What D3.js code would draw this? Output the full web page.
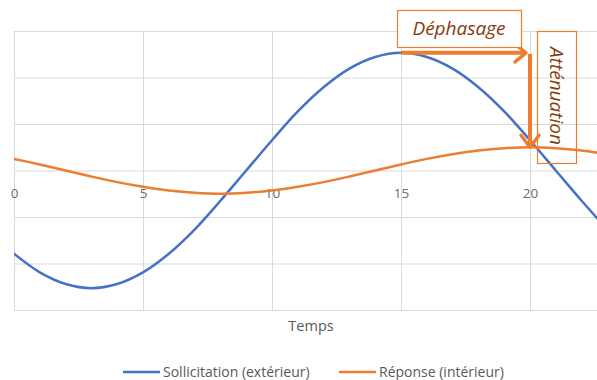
<!DOCTYPE html>
<html>
<head>
<meta charset="utf-8">
<script src="https://cdn.jsdelivr.net/npm/d3@7"></script>
<style>
  html, body { margin: 0; padding: 0; background: #fff; }
  svg { display: block; font-family: "Open Sans", sans-serif; }
</style>
</head>
<body>
<svg id="chart" width="597" height="380"></svg>
<script>
// Time steps (hours)
const temps = [0,1,2,3,4,5,6,7,8,9,10,11,12,13,14,15,16,17,18,19,20,21,22,23];
// Outdoor solicitation
const sollicitation = [-1.79,-2.19,-2.44,-2.53,-2.44,-2.19,-1.79,-1.27,-0.65,0,0.65,1.27,1.79,2.19,2.44,2.53,2.44,2.19,1.79,1.27,0.65,0,-0.65,-1.27];
// Indoor response
const reponse = [0.25,0.13,0,-0.13,-0.25,-0.35,-0.43,-0.48,-0.5,-0.48,-0.43,-0.35,-0.25,-0.13,0,0.13,0.25,0.35,0.43,0.48,0.5,0.48,0.43,0.35];
const xTicks = [0,5,10,15,20];
const yGrid = [-3,-2,-1,0,1,2,3];
const seriesNames = ["Sollicitation (extérieur)", "Réponse (intérieur)"];
const seriesColors = ["#4472C4", "#ED7D31"];

const svg = d3.select("#chart");
const W = 597, H = 380;

const x = d3.scaleLinear().domain([0, 23]).range([14, 14 + 23 * 25.8]);
const y = d3.scaleLinear().domain([-3, 3]).range([310, 31]);

svg.append("defs").append("clipPath").attr("id", "plotclip")
  .append("rect").attr("x", 14).attr("y", 0).attr("width", W - 14).attr("height", 320);

// Gridlines
const grid = svg.append("g");
grid.selectAll("line.h").data(yGrid).join("line")
  .attr("x1", 14).attr("x2", W)
  .attr("y1", d => y(d) + 0.5).attr("y2", d => y(d) + 0.5)
  .attr("stroke", "#d9d9d9").attr("stroke-width", 1);
grid.selectAll("line.v").data(xTicks).join("line")
  .attr("x1", d => Math.round(x(d)) + 0.5).attr("x2", d => Math.round(x(d)) + 0.5)
  .attr("y1", y(3)).attr("y2", y(-3))
  .attr("stroke", "#d9d9d9").attr("stroke-width", 1);

// X axis crossing at zero
const xAxis = d3.axisBottom(x).tickValues(xTicks).tickSize(0).tickPadding(0);
const ax = svg.append("g").attr("transform", `translate(0,${y(0)})`).call(xAxis);
ax.select(".domain").remove();
ax.selectAll("text").attr("fill", "#6b6b6b").attr("dy", "27px")
  .style("font-size", "13.5px").style("font-family", "'Open Sans', sans-serif");

// Axis title
svg.append("text").attr("x", 311).attr("y", 331).attr("text-anchor", "middle")
  .attr("fill", "#595959").style("font-size", "14.5px").text("Temps");

// Series
const line = d3.line().x((d, i) => x(temps[i])).y(d => y(d)).curve(d3.curveCatmullRom.alpha(0.5));
const plot = svg.append("g").attr("clip-path", "url(#plotclip)");
[sollicitation, reponse].forEach((vals, k) => {
  plot.append("path").datum(vals).attr("d", line)
    .attr("fill", "none").attr("stroke", seriesColors[k]).attr("stroke-width", 2.5)
    .attr("stroke-linejoin", "round").attr("stroke-linecap", "round");
});

// Annotations
const annoStroke = "#ED7D31", annoText = "#843C0C";
const peakT = 15, lagT = 20;
const peakY = y(d3.max(sollicitation));
const respY = y(d3.max(reponse));
const ann = svg.append("g");

// Phase shift arrow
const hx0 = x(peakT), hx1 = x(lagT) - 4;
ann.append("line").attr("x1", hx0).attr("y1", peakY).attr("x2", hx1 - 2).attr("y2", peakY)
  .attr("stroke", annoStroke).attr("stroke-width", 4);
ann.append("path").attr("d", `M${hx1 - 11},${peakY - 9} L${hx1},${peakY} L${hx1 - 11},${peakY + 9}`)
  .attr("fill", "none").attr("stroke", annoStroke).attr("stroke-width", 3.5)
  .attr("stroke-linecap", "round").attr("stroke-linejoin", "round");

// Attenuation arrow
const vx = x(lagT);
ann.append("line").attr("x1", vx).attr("y1", peakY + 1).attr("x2", vx).attr("y2", respY - 2)
  .attr("stroke", annoStroke).attr("stroke-width", 4);
ann.append("path").attr("d", `M${vx - 9},${respY - 12} L${vx},${respY} L${vx + 9},${respY - 12}`)
  .attr("fill", "none").attr("stroke", annoStroke).attr("stroke-width", 3.5)
  .attr("stroke-linecap", "round").attr("stroke-linejoin", "round");

// Label boxes
ann.append("rect").attr("x", 397.5).attr("y", 10.5).attr("width", 124).attr("height", 37)
  .attr("fill", "#fff").attr("stroke", annoStroke).attr("stroke-width", 1.2);
ann.append("text").attr("x", 459).attr("y", 35).attr("text-anchor", "middle")
  .attr("fill", annoText).style("font-size", "19px").style("font-style", "italic")
  .text("Déphasage");

ann.append("rect").attr("x", 537.5).attr("y", 31.5).attr("width", 39).attr("height", 132)
  .attr("fill", "none").attr("stroke", annoStroke).attr("stroke-width", 1.2);
ann.append("text").attr("transform", "translate(550,96) rotate(90)").attr("text-anchor", "middle")
  .attr("fill", annoText).style("font-size", "19px").style("font-style", "italic")
  .text("Atténuation");

// Legend
const legend = svg.append("g");
const legendX = [123, 339];
seriesNames.forEach((name, k) => {
  legend.append("line").attr("x1", legendX[k]).attr("x2", legendX[k] + 37)
    .attr("y1", 372).attr("y2", 372).attr("stroke", seriesColors[k]).attr("stroke-width", 2.5);
  legend.append("text").attr("x", legendX[k] + 40).attr("y", 377)
    .attr("fill", "#595959").style("font-size", "14px").text(name);
});
</script>
</body>
</html>
